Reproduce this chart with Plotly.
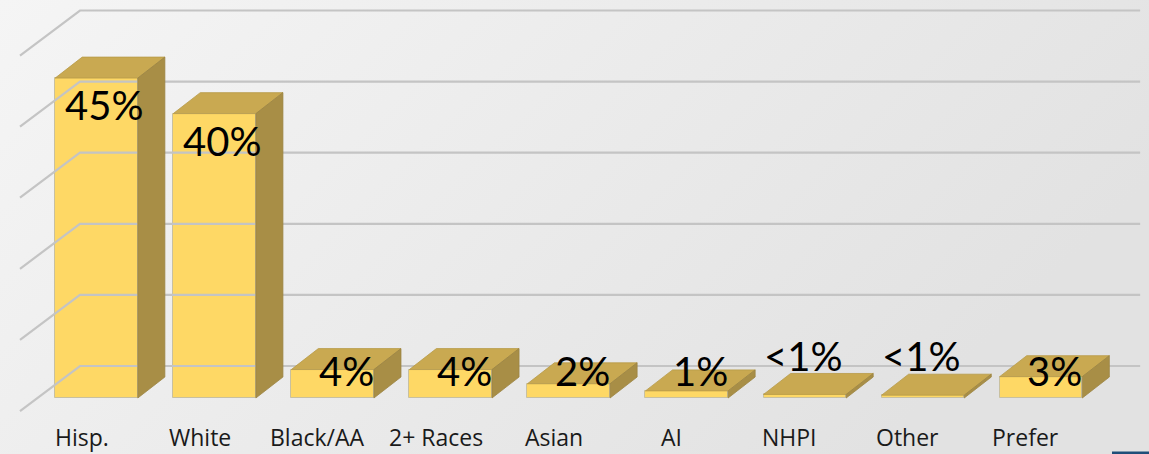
import urllib.parse
import plotly.graph_objects as go

# ---- data ----
categories = ["Hisp.", "White", "Black/AA", "2+ Races", "Asian", "AI", "NHPI", "Other", "Prefer"]
values = [45, 40, 4, 4, 2, 1, 0.5, 0.4, 3]
value_labels = ["45%", "40%", "4%", "4%", "2%", "1%", "<1%", "<1%", "3%"]
grid_values = [0, 10, 20, 30, 40, 50]

# ---- styling / geometry ----
W, H = 1149, 454
FRONT = "#fed865"
TOP = "#c9a951"
SIDE = "#a88e46"
GRID = "#c4c4c4"
FONT = "Century Gothic, Lato, sans-serif"
CAT_FONT = "Century Gothic, Open Sans, sans-serif"
bar_w = 0.70
bar_dx, bar_dy = 0.229, 2.95      # depth offset of bar (data units)
wall_dy = 4.5                     # depth offset of back wall
wall_left = -0.14
diag_dx, diag_dy = 0.508, 6.33    # length of side-wall gridline
wall_right = 8.84

fig = go.Figure()

# gridlines (side wall diagonal + back wall)
gx, gy = [], []
for g in grid_values:
    gx += [wall_left - diag_dx, wall_left, wall_right, None]
    gy += [g + wall_dy - diag_dy, g + wall_dy, g + wall_dy, None]
fig.add_trace(go.Scatter(x=gx, y=gy, mode="lines",
                         line=dict(color=GRID, width=2.2), hoverinfo="skip", showlegend=False))

# bars: front face as bar trace, top & side faces as polygons
fig.add_trace(go.Bar(x=list(range(len(categories))), y=values, width=bar_w,
                     marker=dict(color=FRONT, line=dict(color="#c8c0a0", width=1)),
                     hoverinfo="skip", showlegend=False))
for i, v in enumerate(values):
    xl, xr = i - bar_w / 2, i + bar_w / 2
    fig.add_trace(go.Scatter(
        x=[xl, xr, xr + bar_dx, xl + bar_dx, xl],
        y=[v, v, v + bar_dy, v + bar_dy, v],
        fill="toself", fillcolor=TOP, mode="lines",
        line=dict(color="#b89a48", width=0.8), hoverinfo="skip", showlegend=False))
    fig.add_trace(go.Scatter(
        x=[xr, xr, xr + bar_dx, xr + bar_dx, xr],
        y=[0, v, v + bar_dy, bar_dy, 0],
        fill="toself", fillcolor=SIDE, mode="lines",
        line=dict(color="#9c8442", width=0.8), hoverinfo="skip", showlegend=False))

# data labels
for i, (v, t) in enumerate(zip(values, value_labels)):
    if v > 8:
        ly, xs = v - 3.8, 7
    elif v >= 1:
        ly, xs = 3.8, 14
    else:
        ly, xs = 5.9, -2
    fig.add_annotation(x=i, y=ly, text=t, showarrow=False, xshift=xs,
                       font=dict(family=FONT, size=40, color="#000000"))

# category labels
for i, c in enumerate(categories):
    fig.add_annotation(x=i, y=-5.5, text=c, showarrow=False, xshift=-15,
                       font=dict(family=CAT_FONT, size=23, color="#1a1a1a"))

# background gradient via svg
svg = ("<svg xmlns='http://www.w3.org/2000/svg' width='1149' height='454'>"
       "<defs><linearGradient id='g' x1='0' y1='0' x2='1' y2='0.4'>"
       "<stop offset='0' stop-color='#f5f5f5'/><stop offset='1' stop-color='#e2e2e2'/>"
       "</linearGradient></defs><rect width='1149' height='454' fill='url(#g)'/></svg>")
src = "data:image/svg+xml;utf8," + urllib.parse.quote(svg)

fig.update_layout(
    width=W, height=H,
    margin=dict(l=0, r=0, t=0, b=0),
    paper_bgcolor="#ebebeb", plot_bgcolor="rgba(0,0,0,0)",
    images=[dict(source=src, xref="paper", yref="paper", x=0, y=1, sizex=1, sizey=1,
                 sizing="stretch", layer="below")],
    xaxis=dict(range=[-0.8174, 8.915], showgrid=False, zeroline=False, showticklabels=False,
               fixedrange=True),
    yaxis=dict(range=[-7.876, 55.98], showgrid=False, zeroline=False, showticklabels=False,
               fixedrange=True),
    shapes=[dict(type="rect", xref="paper", yref="paper", x0=1112 / W, x1=1, y0=0, y1=2.5 / H,
                 fillcolor="#1f4e79", line=dict(width=0))],
    bargap=0,
)

fig.write_html("out.html", config={"displayModeBar": False},
               post_script="document.body.style.margin='0';document.body.style.overflow='hidden';")
